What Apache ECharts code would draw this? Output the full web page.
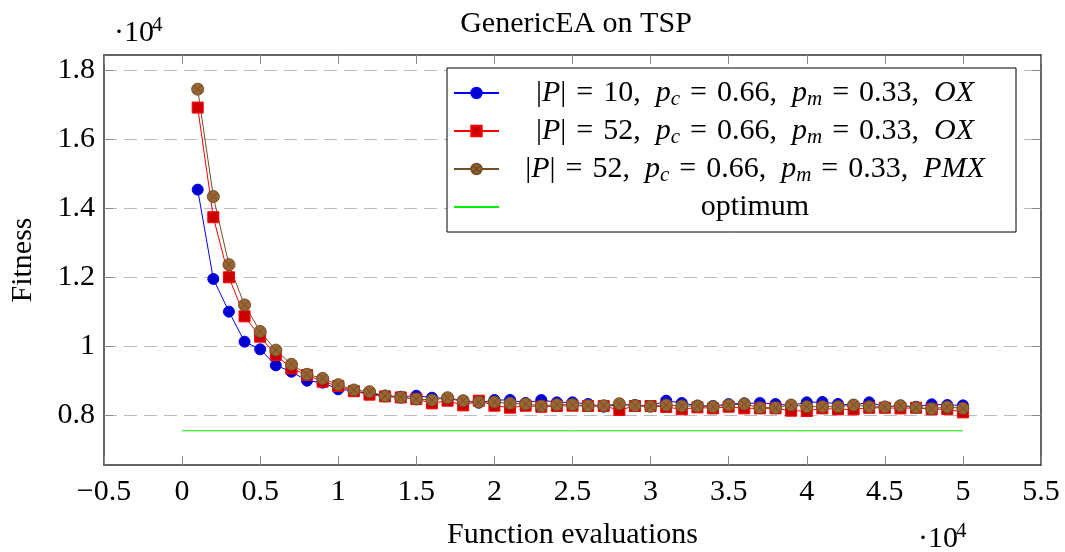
<!DOCTYPE html>
<html><head><meta charset="utf-8">
<script src="https://cdn.jsdelivr.net/npm/echarts@6/dist/echarts.min.js"></script>
<style>html,body{margin:0;padding:0;background:#fff}#c{width:1065px;height:552px}</style>
</head><body><div id="c"></div>
<script>
const chartTitle = 'GenericEA on TSP';
const xAxisName = 'Function evaluations';
const yAxisName = 'Fitness';
const evaluations = [1000,2000,3000,4000,5000,6000,7000,8000,9000,10000,
  11000,12000,13000,14000,15000,16000,17000,18000,19000,20000,
  21000,22000,23000,24000,25000,26000,27000,28000,29000,30000,
  31000,32000,33000,34000,35000,36000,37000,38000,39000,40000,
  41000,42000,43000,44000,45000,46000,47000,48000,49000,50000];
const fitnessP10OX = [14530,11942,10995,10125,9904,9440,9255,8995,8937,8745,
  8700,8620,8560,8530,8560,8502,8480,8400,8357,8435,
  8435,8350,8435,8367,8367,8320,8242,8300,8290,8260,
  8415,8348,8270,8260,8319,8338,8348,8319,8280,8367,
  8377,8319,8290,8367,8240,8270,8240,8309,8290,8280];
const fitnessP52OX = [16907,13730,11990,10860,10270,9740,9350,9160,8965,8840,
  8690,8590,8540,8510,8460,8338,8415,8280,8415,8270,
  8212,8270,8240,8260,8270,8260,8260,8145,8260,8260,
  8235,8165,8222,8193,8240,8193,8193,8193,8125,8116,
  8193,8164,8164,8210,8210,8193,8210,8164,8170,8077];
const fitnessP52PMX = [17440,14328,12357,11190,10420,9880,9470,9180,9060,8880,
  8725,8676,8551,8512,8464,8435,8502,8415,8377,8377,
  8338,8319,8261,8300,8300,8270,8270,8328,8270,8251,
  8290,8261,8261,8242,8290,8319,8213,8213,8290,8242,
  8242,8242,8290,8242,8232,8270,8213,8184,8232,8193];
const optimumValue = 7542;
const optimumRange = [0, 50000];
const seriesNames = ['|P| = 10, p_c = 0.66, p_m = 0.33, OX',
  '|P| = 52, p_c = 0.66, p_m = 0.33, OX',
  '|P| = 52, p_c = 0.66, p_m = 0.33, PMX',
  'optimum'];
const SP = '\u2004';
const CS = '\u2002';
const legendRich = {
  '|P| = 10, p_c = 0.66, p_m = 0.33, OX': `{r||}{i|P}{r||${SP}=${SP}10,${CS}}{i|p}{s|c}{r|${SP}=${SP}0.66,${CS}}{i|p}{s|m}{r|${SP}=${SP}0.33,${CS}}{i|OX}`,
  '|P| = 52, p_c = 0.66, p_m = 0.33, OX': `{r||}{i|P}{r||${SP}=${SP}52,${CS}}{i|p}{s|c}{r|${SP}=${SP}0.66,${CS}}{i|p}{s|m}{r|${SP}=${SP}0.33,${CS}}{i|OX}`,
  '|P| = 52, p_c = 0.66, p_m = 0.33, PMX': `{r||}{i|P}{r||${SP}=${SP}52,${CS}}{i|p}{s|c}{r|${SP}=${SP}0.66,${CS}}{i|p}{s|m}{r|${SP}=${SP}0.33,${CS}}{i|PMX}`,
  'optimum': '{r|optimum}'
};
const yTickValues = [8000, 10000, 12000, 14000, 16000, 18000];
const xMin = -5000, xMax = 55000, xInterval = 5000;
const yMin = 6552, yMax = 18430;
const multiplierText = '·10';
const multiplierExp = '4';

const FONT = 'Liberation Serif';
const FS = 30;
const otimes = 'path://M0,10A10,10 0 1,1 20,10A10,10 0 1,1 0,10Z M2.93,2.93L17.07,17.07 M17.07,2.93L2.93,17.07';

function fmtNum(v) {
  const s = String(parseFloat((v / 10000).toFixed(2)));
  return s.replace('-', '\u2212');
}
function pairs(ys) { return evaluations.map((x, i) => [x, ys[i]]); }

const chart = echarts.init(document.getElementById('c'), null, {renderer: 'canvas'});
const richStyles = {
  r: {fontFamily: FONT, fontSize: FS, lineHeight: 34, align: 'center', color: '#000'},
  i: {fontFamily: FONT, fontSize: FS, fontStyle: 'italic', lineHeight: 34, align: 'center', color: '#000'},
  s: {fontFamily: FONT, fontSize: 21, fontStyle: 'italic', lineHeight: 16, verticalAlign: 'bottom', align: 'center', color: '#000'}
};
const option = {
  animation: false,
  backgroundColor: '#fff',
  title: {
    text: chartTitle, left: 571, top: 4, textAlign: 'center',
    textStyle: {fontFamily: FONT, fontSize: FS, fontWeight: 'normal', color: '#000'}
  },
  grid: {left: 104, top: 55, width: 937, height: 410, containLabel: false, outerBoundsMode: 'none'},
  legend: {
    orient: 'vertical', left: 447, top: 68,
    padding: [8, 10, 8, 6], itemGap: 4, itemWidth: 45, itemHeight: 13,
    borderColor: '#000', borderWidth: 1, backgroundColor: '#fff',
    data: [seriesNames[0], seriesNames[1], seriesNames[2], {name: seriesNames[3], itemStyle: {opacity: 0}}],
    selectedMode: false,
    formatter: n => legendRich[n],
    textStyle: {width: 502, fontFamily: FONT, fontSize: FS, lineHeight: 34, rich: richStyles}
  },
  xAxis: [{
    type: 'value', min: xMin, max: xMax, interval: xInterval, position: 'bottom',
    name: xAxisName, nameLocation: 'middle', nameGap: 55,
    nameTextStyle: {fontFamily: FONT, fontSize: FS, color: '#000'},
    axisLine: {show: true, onZero: false, lineStyle: {color: '#333', width: 1.5}},
    axisTick: {show: true, inside: true, length: 9, lineStyle: {color: '#888', width: 1}},
    axisLabel: {margin: 12, fontFamily: FONT, fontSize: FS, color: '#000', formatter: fmtNum},
    splitLine: {show: false}
  }, {
    type: 'value', min: xMin, max: xMax, interval: xInterval, position: 'top',
    axisLine: {show: true, onZero: false, lineStyle: {color: '#333', width: 1.5}},
    axisTick: {show: true, inside: true, length: 9, lineStyle: {color: '#888', width: 1}},
    axisLabel: {show: false}, splitLine: {show: false}
  }],
  yAxis: [{
    type: 'value', min: yMin, max: yMax, position: 'left',
    name: yAxisName, nameLocation: 'middle', nameGap: 66, nameRotate: 90,
    nameTextStyle: {fontFamily: FONT, fontSize: FS, color: '#000'},
    axisLine: {show: true, onZero: false, lineStyle: {color: '#333', width: 1.5}},
    axisTick: {show: true, inside: true, length: 9, customValues: yTickValues, lineStyle: {color: '#888', width: 1}},
    axisLabel: {margin: 9, fontFamily: FONT, fontSize: FS, color: '#000', customValues: yTickValues, formatter: fmtNum},
    splitLine: {show: true, lineStyle: {color: '#bbb', width: 1, type: [13, 7]}}
  }, {
    type: 'value', min: yMin, max: yMax, position: 'right',
    axisLine: {show: true, onZero: false, lineStyle: {color: '#333', width: 1.5}},
    axisTick: {show: true, inside: true, length: 9, customValues: yTickValues, lineStyle: {color: '#888', width: 1}},
    axisLabel: {show: false, customValues: yTickValues}, splitLine: {show: false}
  }],
  series: [{
    name: seriesNames[0], type: 'line', data: pairs(fitnessP10OX),
    symbol: 'circle', symbolSize: 11, showAllSymbol: true,
    lineStyle: {color: '#0000ff', width: 1},
    itemStyle: {color: '#0000cc', borderColor: '#0000ff', borderWidth: 1},
    emphasis: {disabled: true}, silent: true
  }, {
    name: seriesNames[1], type: 'line', data: pairs(fitnessP52OX),
    symbol: 'rect', symbolSize: 11, showAllSymbol: true,
    lineStyle: {color: '#ff0000', width: 1},
    itemStyle: {color: '#cc0000', borderColor: '#ff0000', borderWidth: 1},
    emphasis: {disabled: true}, silent: true
  }, {
    name: seriesNames[2], type: 'line', data: pairs(fitnessP52PMX),
    symbol: otimes, symbolSize: 12, showAllSymbol: true,
    lineStyle: {color: '#734d26', width: 1},
    itemStyle: {color: '#996633', borderColor: '#734d26', borderWidth: 1},
    emphasis: {disabled: true}, silent: true
  }, {
    name: seriesNames[3], type: 'line',
    data: [[optimumRange[0], optimumValue], [optimumRange[1], optimumValue]],
    symbol: 'none', lineStyle: {color: '#00ee00', width: 1},
    itemStyle: {color: '#00ee00'},
    emphasis: {disabled: true}, silent: true
  }],
  graphic: [
    {type: 'text', x: 114, y: 33, style: {text: multiplierText, fontFamily: FONT, fontSize: FS, fill: '#000', verticalAlign: 'middle', align: 'left'}},
    {type: 'text', x: 152, y: 25, style: {text: multiplierExp, fontFamily: FONT, fontSize: 21, fill: '#000', verticalAlign: 'middle', align: 'left'}},
    {type: 'text', x: 918, y: 539, style: {text: multiplierText, fontFamily: FONT, fontSize: FS, fill: '#000', verticalAlign: 'middle', align: 'left'}},
    {type: 'text', x: 956, y: 531, style: {text: multiplierExp, fontFamily: FONT, fontSize: 21, fill: '#000', verticalAlign: 'middle', align: 'left'}}
  ]
};
chart.setOption(option);
</script>
</body></html>
